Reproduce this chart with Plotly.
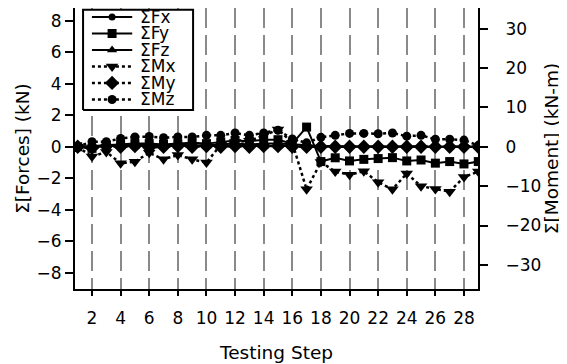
import plotly.graph_objects as go

steps = list(range(1, 30))

fx = [0, 0.05, 0.1, 0.1, 0.15, 0.1, 0.1, 0.15, 0.1, 0.1, 0.15, 0.2, 0.15, 0.2, 0.2, 0.15, 0.1,
      0.05, 0.05, 0.0, 0.05, 0.0, 0.0, 0.05, 0.0, 0.0, 0.0, 0.0, 0.0]
fy = [0, -0.1, 0.1, 0.15, 0.2, 0.2, 0.15, 0.2, 0.25, 0.2, 0.3, 0.4, 0.35, 0.45, 0.45, 0.2, 1.25,
      -0.94, -0.7, -0.9, -0.8, -0.75, -0.69, -0.9, -0.84, -1.04, -0.94, -1.09, -0.94]
fz = [0, 0.0, 0.05, 0.05, 0.05, 0.05, 0.05, 0.05, 0.05, 0.05, 0.05, 0.05, 0.05, 0.05, 0.05, 0.05, 0.0,
      0.0, 0.0, 0.0, 0.0, 0.0, 0.0, 0.0, 0.0, 0.0, 0.0, 0.0, 0.0]
mx = [0, -2.5, -1.3, -4.2, -3.8, -1.5, -3.2, -2.1, -3.2, -4.0, 0.5, 1.2, 1.5, 2.8, 4.4, 1.0, -10.8,
      -3.9, -6.3, -7.1, -6.2, -9.0, -10.8, -6.8, -10.0, -10.7, -11.4, -7.7, -6.3]
my = [0, -0.3, 0.2, 0.0, 0.2, -0.2, 0.0, 0.2, 0.0, 0.2, 0.0, 0.2, 0.0, 0.2, 0.2, 0.0, 0.0,
      0.0, 0.0, 0.0, 0.0, 0.0, 0.0, 0.0, 0.0, 0.0, 0.0, 0.0, 0.0]
mz = [0, 1.3, 1.3, 2.1, 2.5, 2.6, 2.3, 2.5, 2.5, 2.9, 2.9, 3.5, 2.9, 3.5, 4.2, 2.0, 1.0,
      2.4, 2.9, 3.4, 3.4, 3.3, 3.5, 2.7, 2.9, 1.9, 1.9, 1.7, 0.3]

x_ticks = list(range(2, 29, 2))
y_ticks = list(range(-8, 9, 2))
y2_ticks = list(range(-30, 31, 10))

series_names = ["ΣFx", "ΣFy", "ΣFz", "ΣMx", "ΣMy", "ΣMz"]
series_values = [fx, fy, fz, mx, my, mz]
series_symbols = ["circle", "square", "triangle-up", "triangle-down", "diamond", "circle"]
series_dash = ["solid", "solid", "solid", "dot", "dot", "dot"]
series_axis = ["y", "y", "y", "y2", "y2", "y2"]
series_msize = [7, 9, 9, 11, 11, 9]
series_lwidth = [2, 2, 2, 2.5, 2.5, 2.5]

FONT = "DejaVu Sans"
fig = go.Figure()

for name, vals, sym, dash, ax, ms, lw in zip(series_names, series_values, series_symbols,
                                           series_dash, series_axis, series_msize, series_lwidth):
    fig.add_trace(go.Scatter(
        x=steps, y=vals, name=name, yaxis=ax, mode="lines+markers",
        line=dict(color="black", width=lw, dash=dash),
        marker=dict(symbol=sym, size=ms, color="black"),
        showlegend=False,
    ))

# Legend drawn on a helper overlay axis (fractions of the plot area)
box_x = [0.02, 0.293, 0.293, 0.02, 0.02]
box_y = [0.637, 0.637, 0.994, 0.994, 0.637]
fig.add_trace(go.Scatter(
    x=box_x, y=box_y, xaxis="x3", yaxis="y3", mode="lines", fill="toself",
    fillcolor="white", line=dict(color="black", width=2), showlegend=False,
    hoverinfo="skip",
))
row_top = 0.968
row_step = 0.0587
for i, (name, sym, dash, ms, lw) in enumerate(zip(series_names, series_symbols, series_dash,
                                                 series_msize, series_lwidth)):
    yy = row_top - i * row_step
    fig.add_trace(go.Scatter(
        x=[0.042, 0.142], y=[yy, yy], xaxis="x3", yaxis="y3", mode="lines",
        line=dict(color="black", width=lw, dash=dash), showlegend=False, hoverinfo="skip",
    ))
    fig.add_trace(go.Scatter(
        x=[0.092], y=[yy], xaxis="x3", yaxis="y3", mode="markers",
        marker=dict(symbol=sym, size=ms, color="black"), showlegend=False, hoverinfo="skip",
    ))
    fig.add_annotation(
        x=0.16, y=yy, xref="x3", yref="y3", text=name, showarrow=False,
        xanchor="left", yanchor="middle", borderpad=0,
        font=dict(family=FONT, size=17, color="black"),
    )

fig.update_layout(
    width=567, height=364,
    margin=dict(l=67, r=97, t=0, b=83, autoexpand=False),
    paper_bgcolor="white", plot_bgcolor="white",
    font=dict(family=FONT, size=17, color="black"),
    showlegend=False,
    xaxis=dict(
        range=[0.812, 28.98], tickvals=x_ticks, ticks="outside", ticklen=5, tickwidth=2,
        tickcolor="black", showline=True, linecolor="black", linewidth=2, mirror=True,
        showgrid=True, gridcolor="#8a8a8a", gridwidth=2, griddash="20px,7px",
        zeroline=False, automargin=False, ticklabelstandoff=8,
        title=dict(text="Testing Step", standoff=19, font=dict(size=18.5)),
        tickfont=dict(size=17),
    ),
    yaxis=dict(
        range=[-9.03, 8.81], tickvals=y_ticks, ticks="outside", ticklen=8, tickwidth=2,
        tickcolor="black", showline=True, linecolor="black", linewidth=2,
        showgrid=False, zeroline=False, automargin=False,
        title=dict(text="Σ[Forces] (kN)", standoff=2, font=dict(size=18.5)),
        tickfont=dict(size=17),
    ),
    yaxis2=dict(
        range=[-36.12, 35.24], tickvals=y2_ticks, overlaying="y", side="right",
        ticks="outside", ticklen=8, tickwidth=2, tickcolor="black",
        showline=True, linecolor="black", linewidth=2, ticklabelstandoff=14,
        showgrid=False, zeroline=False, automargin=False,
        title=dict(text="Σ[Moment] (kN-m)", standoff=4, font=dict(size=18.5)),
        tickfont=dict(size=17),
    ),
    xaxis3=dict(range=[0, 1], overlaying="x", visible=False, fixedrange=True),
    yaxis3=dict(range=[0, 1], overlaying="y", visible=False, fixedrange=True),
)

fig.write_html("out.html")
